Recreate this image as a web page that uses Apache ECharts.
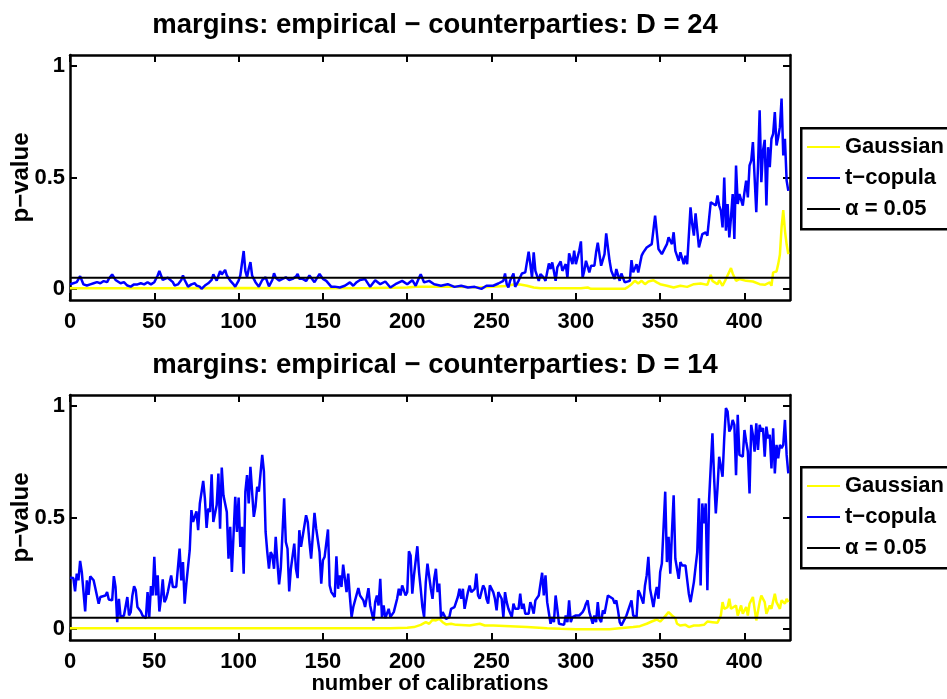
<!DOCTYPE html>
<html>
<head>
<meta charset="utf-8">
<title>p-values by number of calibrations</title>
<script src="https://cdn.jsdelivr.net/npm/echarts@6/dist/echarts.min.js"></script>
<style>
  html, body { margin: 0; padding: 0; background: #fff; }
  #chart { width: 947px; height: 699px; }
</style>
</head>
<body>
<div id="chart"></div>
<script>
// Axis ticks
const xTicks = [0, 50, 100, 150, 200, 250, 300, 350, 400];
const yTicks = [0, 0.5, 1];
const xMax = 427;
const alpha = 0.05;

// Panel titles and series names
const titleD24 = 'margins: empirical \u2212 counterparties: D = 24';
const titleD14 = 'margins: empirical \u2212 counterparties: D = 14';
const nameGauss = 'Gaussian';
const nameT = 't\u2212copula';
const nameAlpha = '\u03b1 = 0.05';

// D = 24 : t-copula p-values  [calibration, p-value]
const tCopulaD24 = [
  [0,0.02],[2,0.025],[4,0.03],[6,0.057],[8,0.02],[10,0.015],[12,0.02],[14,0.025],[16,0.03],[18,0.025],
  [20,0.035],[22,0.03],[23,0.045],[25,0.065],[27,0.04],[28,0.035],[30,0.025],[32,0.03],[34,0.015],[36,0.01],
  [38,0.02],[40,0.02],[42,0.025],[44,0.02],[46,0.03],[48,0.02],[50,0.03],[52,0.06],[53,0.08],[55,0.04],
  [56,0.037],[58,0.05],[59,0.055],[61,0.03],[62,0.015],[64,0.02],[66,0.04],[67,0.06],[68,0.04],[70,0.01],
  [72,0.02],[74,0.025],[75,0.015],[77,0.01],[78,0.0],[80,0.015],[82,0.025],[84,0.04],[85,0.065],[86,0.05],
  [87,0.037],[89,0.08],[90,0.065],[91,0.07],[92,0.085],[93,0.06],[95,0.037],[97,0.02],[98,0.01],[100,0.037],
  [101,0.06],[103,0.17],[104,0.08],[105,0.052],[106,0.09],[107,0.12],[108,0.06],[109,0.045],[110,0.03],[112,0.01],
  [114,0.04],[116,0.052],[118,0.011],[120,0.04],[121,0.07],[122,0.05],[124,0.037],[126,0.045],[128,0.052],[130,0.04],
  [132,0.045],[134,0.055],[135,0.067],[136,0.045],[138,0.045],[140,0.035],[142,0.06],[144,0.04],[145,0.03],[147,0.055],
  [148,0.067],[150,0.045],[152,0.036],[155,0.009],[157,0.01],[160,0.006],[163,0.014],[166,0.029],[168,0.014],[170,0.03],
  [172,0.04],[175,0.044],[178,0.009],[181,0.039],[184,0.021],[187,0.033],[190,0.006],[193,0.021],[197,0.036],[200,0.021],
  [203,0.039],[205,0.014],[207,0.05],[208,0.066],[210,0.029],[213,0.036],[216,0.021],[220,0.014],[224,0.021],[228,0.009],
  [232,0.014],[236,0.006],[240,0.009],[244,0.0],[247,0.014],[251,0.014],[254,0.024],[257,0.036],[258,0.069],[259,0.021],
  [260,0.006],[261,0.036],[263,0.069],[264,0.009],[266,0.036],[267,0.039],[268,0.069],[270,0.074],[272,0.167],[273,0.111],
  [274,0.05],[275,0.164],[276,0.081],[278,0.036],[279,0.066],[281,0.05],[282,0.036],[284,0.114],[285,0.089],[286,0.119],
  [288,0.036],[289,0.096],[291,0.123],[292,0.081],[294,0.111],[295,0.05],[296,0.159],[298,0.111],[299,0.171],[300,0.111],
  [302,0.171],[303,0.213],[304,0.05],[305,0.081],[306,0.126],[308,0.074],[309,0.104],[311,0.104],[312,0.164],[313,0.207],
  [315,0.104],[316,0.111],[317,0.156],[318,0.249],[320,0.126],[321,0.081],[323,0.044],[324,0.089],[326,0.036],[327,0.069],
  [329,0.029],[330,0.021],[332,0.036],[333,0.129],[334,0.074],[336,0.111],[337,0.074],[339,0.149],[340,0.164],[342,0.186],
  [343,0.186],[345,0.201],[346,0.209],[347,0.329],[349,0.179],[350,0.171],[351,0.156],[353,0.186],[354,0.201],[355,0.231],
  [357,0.201],[358,0.254],[359,0.171],[361,0.126],[362,0.164],[364,0.111],[365,0.149],[366,0.111],[368,0.366],[369,0.291],
  [370,0.239],[371,0.339],[372,0.336],[373,0.186],[375,0.246],[376,0.254],[377,0.254],[378,0.239],[379,0.239],[380,0.389],
  [381,0.396],[383,0.374],[384,0.419],[385,0.374],[386,0.351],[387,0.276],[388,0.5],[389,0.261],[390,0.381],[391,0.231],
  [392,0.321],[393,0.426],[394,0.224],[395,0.554],[396,0.381],[397,0.426],[399,0.374],[400,0.434],[401,0.486],[402,0.411],
  [403,0.554],[404,0.576],[405,0.659],[406,0.501],[407,0.344],[408,0.546],[409,0.802],[410,0.479],[411,0.621],[412,0.669],
  [413,0.374],[414,0.636],[415,0.546],[416,0.674],[417,0.696],[418,0.794],[419,0.644],[420,0.681],[421,0.726],[422,0.854],
  [423,0.599],[424,0.674],[425,0.486],[426,0.44]
];

// D = 24 : Gaussian p-values
const gaussianD24 = [
  [0,0.003],[50,0.003],[100,0.004],[150,0.003],[180,0.004],[200,0.006],[205,0.01],[215,0.009],[230,0.01],[243,0.006],
  [250,0.009],[256,0.012],[259,0.013],[263,0.02],[267,0.02],[268,0.028],[271,0.014],[275,0.006],[279,0.003],[290,0.003],
  [303,0.003],[307,0.006],[309,0.0],[320,0.0],[329,0.0],[331,0.009],[333,0.021],[335,0.036],[337,0.024],[339,0.036],
  [341,0.021],[343,0.033],[346,0.039],[348,0.029],[350,0.021],[354,0.014],[358,0.006],[362,0.014],[366,0.009],[370,0.021],
  [374,0.024],[378,0.018],[380,0.063],[381,0.036],[384,0.021],[385,0.039],[387,0.014],[389,0.044],[392,0.093],[393,0.069],
  [395,0.036],[397,0.044],[401,0.036],[405,0.033],[409,0.021],[412,0.018],[415,0.029],[416,0.014],[417,0.074],[419,0.078],
  [420,0.111],[421,0.153],[422,0.276],[423,0.354],[424,0.261],[425,0.2],[426,0.156]
];

// D = 14 : t-copula p-values
const tCopulaD14 = [
  [0,0.23],[2,0.228],[3,0.168],[4,0.248],[5,0.218],[6,0.305],[7,0.255],[9,0.078],[10,0.218],[11,0.153],
  [12,0.236],[14,0.218],[15,0.183],[16,0.18],[17,0.113],[18,0.143],[19,0.138],[21,0.15],[22,0.165],[23,0.132],
  [25,0.128],[26,0.237],[27,0.188],[28,0.03],[29,0.135],[30,0.053],[31,0.045],[32,0.06],[33,0.053],[34,0.143],
  [35,0.06],[36,0.075],[37,0.15],[38,0.192],[39,0.173],[40,0.098],[41,0.102],[42,0.078],[43,0.06],[44,0.057],
  [45,0.048],[46,0.165],[47,0.053],[48,0.192],[49,0.15],[50,0.323],[51,0.15],[52,0.24],[53,0.078],[54,0.138],
  [55,0.222],[56,0.12],[57,0.135],[58,0.165],[60,0.24],[61,0.188],[63,0.188],[64,0.183],[65,0.36],[66,0.218],
  [67,0.3],[68,0.113],[69,0.203],[71,0.353],[72,0.533],[73,0.48],[75,0.528],[76,0.443],[77,0.563],[79,0.664],
  [80,0.586],[81,0.453],[82,0.54],[83,0.525],[84,0.694],[85,0.48],[87,0.556],[88,0.697],[89,0.45],[90,0.724],
  [91,0.6],[93,0.525],[94,0.315],[95,0.458],[96,0.255],[98,0.593],[99,0.435],[100,0.59],[101,0.368],[102,0.458],
  [103,0.248],[104,0.616],[105,0.69],[106,0.563],[107,0.728],[109,0.503],[110,0.548],[111,0.638],[112,0.616],[114,0.781],
  [115,0.706],[116,0.435],[117,0.345],[118,0.27],[119,0.345],[120,0.33],[121,0.27],[122,0.413],[123,0.3],[124,0.2],
  [125,0.27],[126,0.27],[127,0.586],[128,0.39],[129,0.36],[130,0.168],[131,0.27],[133,0.383],[134,0.27],[135,0.228],
  [136,0.443],[137,0.368],[138,0.375],[140,0.51],[141,0.48],[142,0.39],[143,0.315],[145,0.521],[146,0.45],[147,0.453],
  [148,0.345],[149,0.203],[150,0.308],[151,0.323],[153,0.446],[154,0.195],[155,0.165],[157,0.143],[158,0.326],[159,0.18],
  [160,0.24],[161,0.188],[162,0.288],[164,0.165],[165,0.248],[166,0.143],[167,0.053],[168,0.098],[169,0.09],[171,0.183],
  [172,0.15],[174,0.128],[175,0.098],[177,0.183],[178,0.105],[180,0.038],[181,0.12],[182,0.15],[183,0.105],[184,0.225],
  [185,0.053],[186,0.105],[187,0.048],[189,0.09],[190,0.053],[191,0.06],[192,0.075],[194,0.135],[195,0.18],[196,0.15],
  [197,0.195],[199,0.15],[200,0.165],[201,0.348],[202,0.33],[203,0.158],[204,0.24],[206,0.371],[207,0.255],[208,0.18],
  [209,0.098],[210,0.053],[211,0.21],[212,0.293],[214,0.18],[215,0.135],[216,0.225],[217,0.27],[218,0.165],[219,0.203],
  [220,0.053],[221,0.075],[222,0.075],[223,0.045],[225,0.053],[226,0.09],[228,0.098],[229,0.093],[230,0.143],[231,0.18],
  [232,0.135],[233,0.18],[234,0.09],[236,0.165],[237,0.195],[238,0.165],[240,0.18],[241,0.248],[242,0.15],[243,0.135],
  [245,0.195],[246,0.18],[247,0.135],[248,0.113],[249,0.195],[251,0.165],[252,0.135],[253,0.083],[254,0.165],[256,0.135],
  [257,0.053],[258,0.165],[259,0.12],[260,0.09],[262,0.053],[263,0.113],[264,0.09],[265,0.098],[266,0.09],[267,0.158],
  [268,0.09],[269,0.113],[270,0.068],[272,0.068],[273,0.12],[274,0.098],[275,0.068],[276,0.128],[278,0.15],[279,0.143],
  [280,0.252],[281,0.15],[282,0.24],[283,0.12],[285,0.023],[286,0.053],[287,0.03],[288,0.15],[289,0.09],[290,0.023],
  [291,0.023],[293,0.018],[294,0.06],[295,0.03],[296,0.128],[297,0.03],[298,0.053],[299,0.045],[300,0.06],[301,0.053],
  [302,0.06],[304,0.075],[305,0.09],[306,0.113],[307,0.128],[308,0.075],[309,0.083],[310,0.023],[311,0.06],[312,0.03],
  [313,0.12],[314,0.045],[315,0.03],[316,0.083],[317,0.068],[319,0.15],[320,0.143],[322,0.135],[323,0.113],[324,0.128],
  [325,0.083],[326,0.03],[327,0.015],[329,0.045],[330,0.06],[331,0.053],[333,0.128],[334,0.06],[335,0.068],[336,0.053],
  [337,0.173],[338,0.158],[340,0.113],[341,0.195],[342,0.24],[343,0.323],[344,0.18],[345,0.18],[346,0.098],[347,0.15],
  [348,0.188],[349,0.135],[350,0.255],[351,0.293],[352,0.3],[353,0.616],[354,0.3],[355,0.413],[356,0.248],[357,0.435],
  [358,0.6],[359,0.315],[360,0.308],[361,0.225],[362,0.3],[363,0.285],[364,0.293],[365,0.285],[366,0.293],[367,0.158],
  [368,0.12],[369,0.165],[370,0.21],[371,0.278],[372,0.345],[373,0.586],[374,0.195],[375,0.563],[376,0.473],[377,0.563],
  [378,0.173],[379,0.578],[380,0.586],[381,0.878],[382,0.676],[383,0.518],[384,0.631],[385,0.773],[386,0.766],[387,0.683],
  [388,0.856],[389,0.991],[390,0.976],[391,0.886],[392,0.901],[393,0.938],[394,0.916],[395,0.69],[396,0.961],[397,0.781],
  [398,0.773],[399,0.773],[400,0.893],[401,0.841],[402,0.796],[403,0.608],[404,0.916],[405,0.871],[406,0.796],[407,0.923],
  [408,0.803],[409,0.916],[410,0.886],[411,0.901],[412,0.773],[413,0.908],[414,0.856],[415,0.871],[416,0.72],[417,0.901],
  [418,0.698],[419,0.826],[420,0.766],[421,0.826],[422,0.811],[423,0.826],[424,0.938],[425,0.781],[426,0.698]
];

// D = 14 : Gaussian p-values
const gaussianD14 = [
  [0,0.003],[50,0.003],[100,0.003],[150,0.003],[190,0.003],[200,0.005],[204,0.008],[208,0.018],[211,0.03],[213,0.023],
  [215,0.04],[217,0.038],[219,0.045],[221,0.03],[223,0.02],[226,0.023],[229,0.018],[232,0.017],[237,0.015],[243,0.023],
  [246,0.015],[251,0.015],[261,0.012],[271,0.008],[283,0.003],[291,0.0],[300,-0.002],[320,-0.002],[326,0.003],[334,0.008],
  [338,0.012],[342,0.023],[345,0.033],[348,0.042],[350,0.033],[352,0.048],[355,0.075],[357,0.06],[359,0.048],[360,0.023],
  [362,0.015],[365,0.018],[367,0.008],[370,0.015],[373,0.015],[376,0.018],[378,0.033],[381,0.03],[384,0.027],[386,0.06],
  [387,0.12],[388,0.09],[390,0.098],[391,0.135],[392,0.09],[393,0.083],[395,0.105],[396,0.06],[398,0.105],[399,0.068],
  [401,0.098],[402,0.06],[403,0.113],[405,0.143],[406,0.09],[407,0.038],[409,0.12],[410,0.15],[412,0.12],[413,0.068],
  [415,0.105],[416,0.09],[418,0.158],[419,0.12],[421,0.09],[422,0.128],[424,0.113],[425,0.135],[426,0.12]
];

// Significance level, drawn across the whole range
const alphaLine = [[0, alpha], [xMax, alpha]];

const font = "'Liberation Sans', Arial, Helvetica, sans-serif";
const black = '#000';
const frameW = 2.5;

function bottomX(grid, withName) {
  return {
    gridIndex: grid, type: 'value', position: 'bottom', min: 0, max: xMax,
    name: withName ? 'number of calibrations' : '',
    nameLocation: 'middle', nameGap: 33, nameMoveOverlap: false,
    nameTextStyle: { fontFamily: font, fontWeight: 'bold', fontSize: 22, color: black },
    axisLine: { show: true, onZero: false, lineStyle: { color: black, width: frameW } },
    axisTick: { show: true, inside: true, length: 7, customValues: xTicks, lineStyle: { color: black, width: 2 } },
    axisLabel: { show: true, customValues: xTicks, margin: 11, fontFamily: font, fontWeight: 'bold', fontSize: 22, color: black },
    splitLine: { show: false }
  };
}
function topX(grid) {
  return {
    gridIndex: grid, type: 'value', position: 'top', min: 0, max: xMax,
    axisLine: { show: true, onZero: false, lineStyle: { color: black, width: frameW } },
    axisTick: { show: true, inside: true, length: 7, customValues: xTicks, lineStyle: { color: black, width: 2 } },
    axisLabel: { show: false },
    splitLine: { show: false }
  };
}
function leftY(grid) {
  return {
    gridIndex: grid, type: 'value', position: 'left', min: -0.05, max: 1.05,
    name: 'p\u2212value', nameLocation: 'middle', nameRotate: 90, nameGap: 37, nameMoveOverlap: false,
    nameTextStyle: { fontFamily: font, fontWeight: 'bold', fontSize: 24, color: black },
    axisLine: { show: true, onZero: false, lineStyle: { color: black, width: frameW } },
    axisTick: { show: true, inside: true, length: 7, customValues: yTicks, lineStyle: { color: black, width: 2 } },
    axisLabel: { show: true, customValues: yTicks, margin: 5, fontFamily: font, fontWeight: 'bold', fontSize: 22, color: black },
    splitLine: { show: false }
  };
}
function rightY(grid) {
  return {
    gridIndex: grid, type: 'value', position: 'right', min: -0.05, max: 1.05,
    axisLine: { show: true, onZero: false, lineStyle: { color: black, width: frameW } },
    axisTick: { show: true, inside: true, length: 7, customValues: yTicks, lineStyle: { color: black, width: 2 } },
    axisLabel: { show: false },
    splitLine: { show: false }
  };
}
function lineSeries(name, data, color, axisIdx, width) {
  return {
    name: name, type: 'line', data: data,
    xAxisIndex: axisIdx, yAxisIndex: axisIdx,
    showSymbol: false, symbol: 'none', clip: true, animation: false,
    lineStyle: { color: color, width: width }, itemStyle: { color: color },
    emphasis: { disabled: true }
  };
}
function legendAt(top) {
  return {
    orient: 'vertical', left: 800, top: top,
    data: [nameGauss, nameT, nameAlpha],
    icon: 'rect', itemWidth: 33, itemHeight: 2, itemGap: 9,
    padding: [9, 10, 9, 7],
    borderWidth: 0, backgroundColor: 'transparent',
    textStyle: { fontFamily: font, fontWeight: 'bold', fontSize: 22, color: black },
    selectedMode: false, z: 6
  };
}
// Legend frame: runs past the right edge of the canvas
function legendFrame(top) {
  return {
    type: 'rect', left: 800, top: top, z: 5,
    shape: { width: 200, height: 101 },
    style: { fill: '#fff', stroke: black, lineWidth: 2.5 }
  };
}

const chart = echarts.init(document.getElementById('chart'), null, { renderer: 'canvas' });
chart.setOption({
  backgroundColor: '#fff',
  animation: false,
  title: [
    { text: titleD24, left: 430, top: 6, textAlign: 'center',
      textStyle: { fontFamily: font, fontWeight: 'bold', fontSize: 27.5, color: black } },
    { text: titleD14, left: 430, top: 346, textAlign: 'center',
      textStyle: { fontFamily: font, fontWeight: 'bold', fontSize: 27.5, color: black } }
  ],
  grid: [
    { left: 70, top: 55, width: 720, height: 245, containLabel: false, outerBoundsMode: 'none' },
    { left: 70, top: 395, width: 720, height: 245, containLabel: false, outerBoundsMode: 'none' }
  ],
  graphic: [legendFrame(127), legendFrame(466)],
  xAxis: [bottomX(0, false), topX(0), bottomX(1, true), topX(1)],
  yAxis: [leftY(0), rightY(0), leftY(1), rightY(1)],
  legend: [legendAt(127), legendAt(466)],
  series: [
    lineSeries(nameGauss, gaussianD24, '#ffff00', 0, 2.5),
    lineSeries(nameT, tCopulaD24, '#0000ff', 0, 2.5),
    lineSeries(nameAlpha, alphaLine, black, 0, 2.2),
    lineSeries(nameGauss, gaussianD14, '#ffff00', 2, 2.5),
    lineSeries(nameT, tCopulaD14, '#0000ff', 2, 2.5),
    lineSeries(nameAlpha, alphaLine, black, 2, 2.2)
  ]
});
</script>
</body>
</html>
